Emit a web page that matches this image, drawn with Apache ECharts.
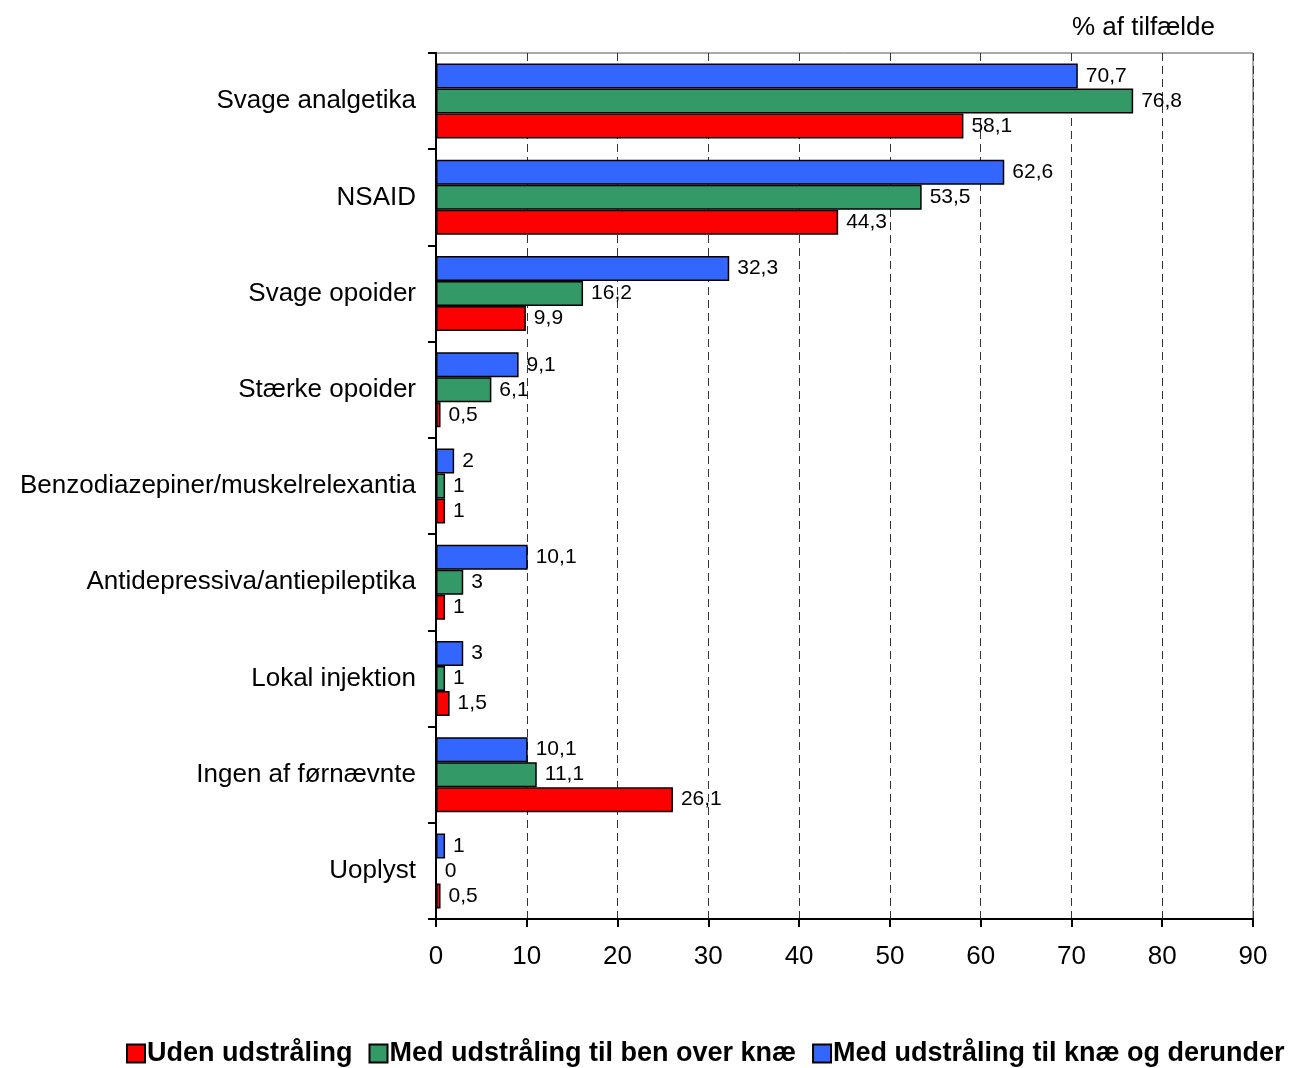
<!DOCTYPE html>
<html><head><meta charset="utf-8">
<script src="https://cdn.jsdelivr.net/npm/echarts@6/dist/echarts.min.js"></script>
<style>html,body{margin:0;padding:0;background:#fff}#c{width:1303px;height:1068px}</style>
</head><body><div id="c"></div>
<script>
const categories = ['Svage analgetika','NSAID','Svage opoider','Stærke opoider','Benzodiazepiner/muskelrelexantia','Antidepressiva/antiepileptika','Lokal injektion','Ingen af førnævnte','Uoplyst'];
const udenUdstraaling = [58.1, 44.3, 9.9, 0.5, 1, 1, 1.5, 26.1, 0.5];
const medOverKnae = [76.8, 53.5, 16.2, 6.1, 1, 3, 1, 11.1, 0];
const medKnaeDerunder = [70.7, 62.6, 32.3, 9.1, 2, 10.1, 3, 10.1, 1];
const seriesNames = ['Uden udstråling','Med udstråling til ben over knæ','Med udstråling til knæ og derunder'];
const xTicks = [0,10,20,30,40,50,60,70,80,90];

const font = "'Liberation Sans', Arial, sans-serif";
const lbl = {show:true, position:'right', distance:8, color:'#000', fontSize:21, fontFamily:font,
  formatter: p => String(p.value).replace('.', ',')};
function mk(name, data, color){
  return {name, type:'bar', data, barWidth:25, barGap:'0%',
    itemStyle:{color, borderColor:'#000', borderWidth:1.5}, label:lbl};
}
const chart = echarts.init(document.getElementById('c'));
chart.setOption({
  animation:false,
  title:{text:'% af tilfælde', right:83, top:10, textStyle:{fontSize:26, fontWeight:'normal', fontFamily:font, color:'#000'}},
  grid:{left:436, right:50, top:53, bottom:149, show:true, borderColor:'#555', borderWidth:1},
  xAxis:{type:'value', min:xTicks[0], max:xTicks[xTicks.length-1], interval:10,
    axisLine:{show:true, lineStyle:{color:'#000', width:2}},
    axisTick:{show:true, length:8, lineStyle:{color:'#000', width:2}},
    axisLabel:{fontSize:26, fontFamily:font, color:'#000', margin:25},
    splitLine:{show:true, lineStyle:{color:'#333', type:[8,5], width:1}}},
  yAxis:{type:'category', data:categories, inverse:true,
    axisLine:{show:true, lineStyle:{color:'#000', width:2}},
    axisTick:{show:true, length:8, lineStyle:{color:'#000', width:2}},
    axisLabel:{fontSize:26, fontFamily:font, color:'#000', margin:20}},
  legend:{data:seriesNames, left:126, top:1040, padding:0, itemGap:16, itemWidth:18, itemHeight:18, icon:'rect',
    textStyle:{fontSize:27, fontWeight:'bold', fontFamily:font, color:'#000', padding:[0,0,0,-3]}},
  series:[
    mk(seriesNames[2], medKnaeDerunder, '#3366FF'),
    mk(seriesNames[1], medOverKnae, '#339966'),
    mk(seriesNames[0], udenUdstraaling, '#FF0000')
  ]
});
</script></body></html>
